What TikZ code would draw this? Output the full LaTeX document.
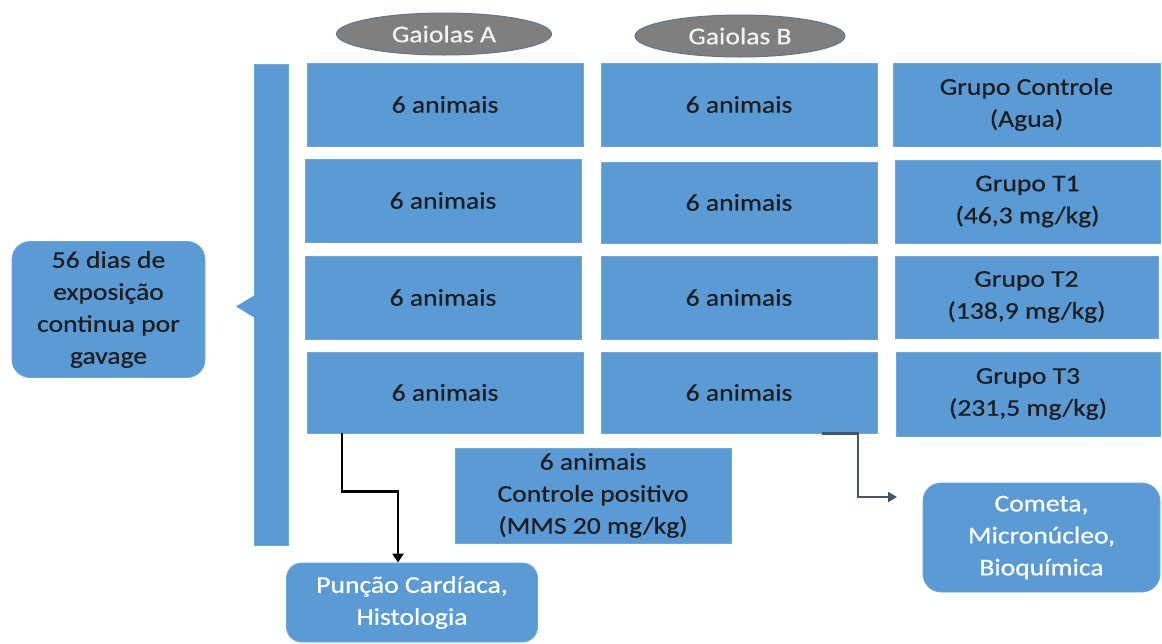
\documentclass[tikz,border=0pt]{standalone}
\usepackage{fontspec}
\setmainfont{Carlito}[FakeStretch=1.15,FakeBold=0.6]
\usetikzlibrary{arrows.meta,shapes.geometric}
\definecolor{boxblue}{HTML}{5B9BD5}
\definecolor{edgeblue}{HTML}{6CA6DA}
\definecolor{cagegrey}{HTML}{7F7F7F}
\definecolor{cageedge}{HTML}{5F7891}
\definecolor{txtdark}{HTML}{1E1E1E}
\definecolor{slate}{HTML}{44546A}
\tikzset{
  cell/.style={rectangle, fill=boxblue, draw=edgeblue, line width=0.8pt,
    text=txtdark, align=center, inner sep=0pt,
    font=\fontsize{24}{32}\selectfont},
  cage/.style={ellipse, fill=cagegrey, draw=cageedge, line width=1pt,
    text=white!95!black, inner sep=0pt,
    font=\fontsize{24}{32}\selectfont},
  result/.style={rectangle, rounded corners=18pt, fill=boxblue, draw=edgeblue,
    line width=0.8pt, align=center, inner sep=0pt,
    font=\fontsize{24}{32}\selectfont},
}
\begin{document}
\begin{tikzpicture}[x=1pt, y=-1pt]
\useasboundingbox (0,0) rectangle (1162,643);

% cage headers
\node[cage, minimum width=215pt, minimum height=42pt] (cageA) at (444,34) {Gaiolas A};
\node[cage, minimum width=210pt, minimum height=42pt] (cageB) at (740,36) {Gaiolas B};

% cage A column
\node[cell, minimum width=276pt, minimum height=83pt] (a1) at (445,104.5) {6 animais};
\node[cell, minimum width=276pt, minimum height=83pt] (a2) at (443,200.5) {6 animais};
\node[cell, minimum width=276pt, minimum height=83pt] (a3) at (443,297.5) {6 animais};
\node[cell, minimum width=276pt, minimum height=81pt] (a4) at (445,392.5) {6 animais};

% cage B column
\node[cell, minimum width=276pt, minimum height=83pt] (b1) at (739,104.5) {6 animais};
\node[cell, minimum width=276pt, minimum height=81pt] (b2) at (739,202.5) {6 animais};
\node[cell, minimum width=276pt, minimum height=83pt] (b3) at (739,297.5) {6 animais};
\node[cell, minimum width=276pt, minimum height=81pt] (b4) at (739,392.5) {6 animais};

% treatment groups
\node[cell, minimum width=267pt, minimum height=83pt] (g1) at (1026.5,104.5) {Grupo Controle\\(Agua)};
\node[cell, minimum width=265pt, minimum height=83pt] (g2) at (1027.5,201.5) {Grupo T1\\(46,3 mg/kg)};
\node[cell, minimum width=263pt, minimum height=82pt] (g3) at (1026.5,297) {Grupo T2\\(138,9 mg/kg)};
\node[cell, minimum width=264pt, minimum height=84pt] (g4) at (1028,394) {Grupo T3\\(231,5 mg/kg)};

% positive control
\node[cell, minimum width=276pt, minimum height=95pt] (cp) at (593,495.5) {6 animais\\Controle positivo\\(MMS 20 mg/kg)};

% exposure bar with its left-pointing tab
\node[cell, minimum width=34pt, minimum height=481pt] (bar) at (271,305) {};
\coordinate (tabtop) at (255,295);
\coordinate (tabbot) at (255,318);
\coordinate (tabtip) at (236,306.5);
\fill[boxblue] (tabtop) -- (tabtip) -- (tabbot) -- cycle;

% exposure description
\node[result, text=txtdark, minimum width=193pt, minimum height=136pt] (dias) at (108.5,309.5)
  {56 dias de\\exposição\\continua por\\gavage};

% analyses
\node[result, text=white, rounded corners=15pt, minimum width=251pt, minimum height=79pt] (pun) at (412,602.5)
  {Punção Cardíaca,\\Histologia};
\node[result, text=white, minimum width=237pt, minimum height=109pt] (com) at (1041.5,537.5)
  {Cometa,\\Micronúcleo,\\Bioquímica};

% connectors
\draw[line width=2.6pt, black, -{Triangle[length=9pt,width=11pt]}]
  ([xshift=-103pt]a4.south) -- ++(0,58) -| ([xshift=-14pt]pun.north);
\coordinate (comin) at (897,497);
\draw[line width=2.2pt, slate, -{Triangle[length=9pt,width=10pt]}]
  ([xshift=83pt]b4.south) -- ++(36,0) |- (comin);
\end{tikzpicture}
\end{document}
